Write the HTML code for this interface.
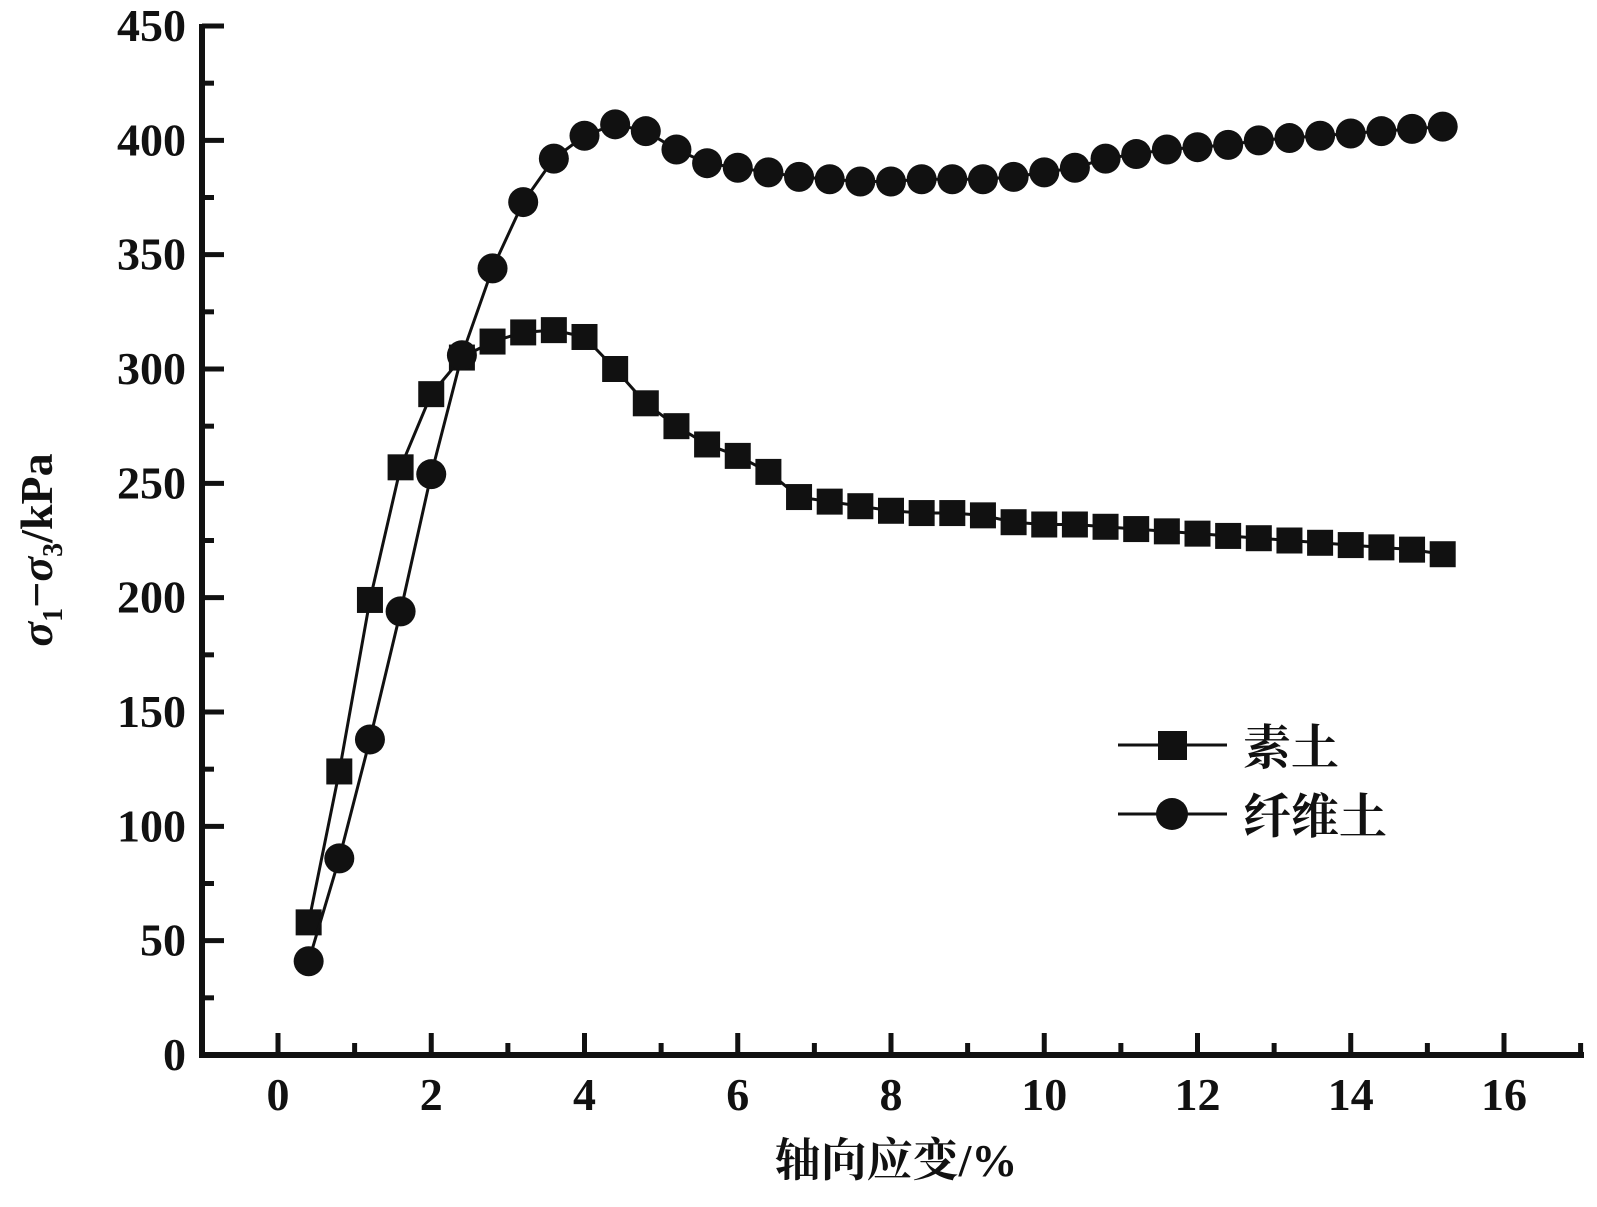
<!DOCTYPE html>
<html><head><meta charset="utf-8"><style>
body{margin:0;background:#fff}
svg text{font-family:"Liberation Serif","Noto Serif CJK SC",serif;font-weight:bold;fill:#111}
</style></head><body>
<svg id="chart" width="1597" height="1202" viewBox="0 0 1597 1202" xmlns="http://www.w3.org/2000/svg">
<g id="axes"></g>
<g id="series"></g>
<g id="legend">
  <line x1="1118" y1="745" x2="1227" y2="745" stroke="#111" stroke-width="3"/>
  <rect x="1158" y="731" width="29" height="29" fill="#111"/>
  <text x="1243" y="764" font-size="48">素土</text>
  <line x1="1118" y1="814" x2="1227" y2="814" stroke="#111" stroke-width="3"/>
  <circle cx="1172" cy="814" r="16" fill="#111"/>
  <text x="1243" y="833" font-size="48">纤维土</text>
</g>
<text x="896" y="1176" font-size="46" text-anchor="middle">轴向应变/%</text>
<text transform="translate(52,550) rotate(-90)" font-size="46" text-anchor="middle"><tspan font-style="italic">σ</tspan><tspan font-size="28" dy="10">1</tspan><tspan dy="-10">−</tspan><tspan font-style="italic">σ</tspan><tspan font-size="28" dy="10">3</tspan><tspan dy="-10">/kPa</tspan></text>
</svg>
<script>
const strain=[0.4,0.8,1.2,1.6,2.0,2.4,2.8,3.2,3.6,4.0,4.4,4.8,5.2,5.6,6.0,6.4,6.8,7.2,7.6,8.0,8.4,8.8,9.2,9.6,10.0,10.4,10.8,11.2,11.6,12.0,12.4,12.8,13.2,13.6,14.0,14.4,14.8,15.2];
const plainSoil=[58,124,199,257,289,305,312,316,317,314,300,285,275,267,262,255,244,242,240,238,237,237,236,233,232,232,231,230,229,228,227,226,225,224,223,222,221,219];
const fiberSoil=[41,86,138,194,254,306,344,373,392,402,407,404,396,390,388,386,384,383,382,382,383,383,383,384,386,388,392,394,396,397,398,400,401,402,403,404,405,406];
const xTicks=[0,2,4,6,8,10,12,14,16];
const yTicks=[0,50,100,150,200,250,300,350,400,450];
const NS="http://www.w3.org/2000/svg";
const X=v=>278+v*(1504-278)/16;
const Y=v=>1055-v*(1055-26)/450;
function mk(t,a,p){const e=document.createElementNS(NS,t);for(const k in a)e.setAttribute(k,a[k]);p.appendChild(e);return e;}
const ax=document.getElementById('axes');
let l=mk('line',{x1:202,y1:24,x2:202,y2:1058,stroke:'#111','stroke-width':6},ax);


l=mk('line',{x1:199,y1:1055,x2:1584,y2:1055,stroke:'#111','stroke-width':6},ax);


for(let v=0;v<=450;v+=25){const major=v%50===0;
 const t=mk('line',{x1:202,x2:202+(major?22:12),y1:Y(v),y2:Y(v),stroke:'#111','stroke-width':5},ax);
 
 }
yTicks.forEach(v=>{const t=mk('text',{x:186,y:Y(v)+15,'font-size':46,'text-anchor':'end'},ax);t.textContent=v;
 
 });
for(let v=0;v<=17;v+=1){const major=v%2===0;
 const t=mk('line',{x1:X(v),x2:X(v),y1:1055,y2:1055-(major?22:12),stroke:'#111','stroke-width':5},ax);
 
 }
xTicks.forEach(v=>{const t=mk('text',{x:X(v),y:1110,'font-size':46,'text-anchor':'middle'},ax);t.textContent=v;
 
 });
const sg=document.getElementById('series');
function series(vals,kind){
 const pts=strain.map((s,i)=>X(s)+','+Y(vals[i])).join(' ');
 const pl=mk('polyline',{points:pts,fill:'none',stroke:'#111','stroke-width':3},sg);
 
 
 strain.forEach((s,i)=>{let m;
  if(kind==='plain-soil')m=mk('rect',{x:X(s)-13,y:Y(vals[i])-13,width:26,height:26,fill:'#111'},sg);
  else m=mk('circle',{cx:X(s),cy:Y(vals[i]),r:15,fill:'#111'},sg);
  
  });
}
series(plainSoil,'plain-soil');
series(fiberSoil,'fiber-soil');
</script>
</body></html>
